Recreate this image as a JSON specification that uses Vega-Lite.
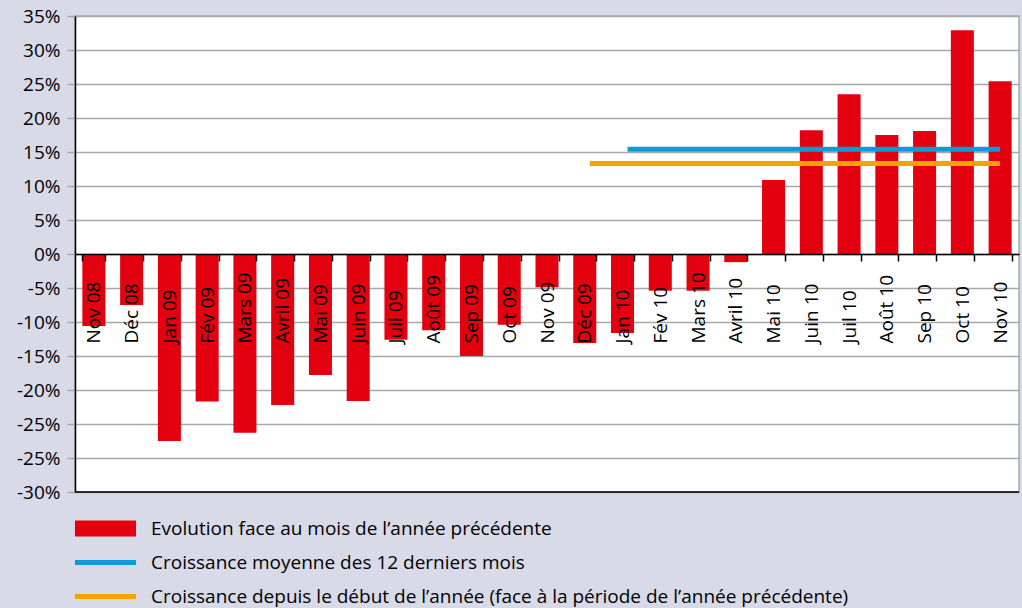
{
  "$schema": "https://vega.github.io/schema/vega-lite/v6.json",
  "width": 944,
  "height": 476,
  "autosize": "none",
  "padding": {"left": 75, "top": 16, "right": 3, "bottom": 116},
  "background": "#d8dae8",
  "view": {"fill": "#ffffff", "stroke": "#a8a8a8", "strokeWidth": 1.5},
  "config": {
    "font": "Open Sans",
    "axis": {"labelOverlap": false, "labelFlush": false},
    "axisY": {
      "title": null,
      "grid": true,
      "gridColor": "#a8a8a8",
      "gridWidth": 1.5,
      "gridOpacity": 1,
      "domainColor": "#000000",
      "domainWidth": 1.5,
      "tickColor": "#a8a8a8",
      "tickWidth": 1.5,
      "tickSize": 8,
      "labelPadding": 7,
      "labelFontSize": 19,
      "labelColor": "#000000",
      "labelOverlap": false,
      "labelFlush": false
    },
    "axisX": {
      "title": null,
      "labelAngle": -90,
      "labelAlign": "left",
      "labelBaseline": "middle",
      "labelPadding": 82,
      "labelFontSize": 19,
      "labelColor": "#000000",
      "labelOverlap": false,
      "labelFlush": false,
      "tickSize": 7,
      "tickColor": "#000000",
      "tickWidth": 1.5,
      "tickBand": "extent",
      "domainColor": "#000000",
      "domainWidth": 1.5,
      "grid": false
    }
  },
  "datasets": {
    "bars": [
      {"month": "Nov 08", "value": -10.6, "series": "Evolution face au mois de l’année précédente"},
      {"month": "Déc 08", "value": -7.5, "series": "Evolution face au mois de l’année précédente"},
      {"month": "Jan 09", "value": -27.5, "series": "Evolution face au mois de l’année précédente"},
      {"month": "Fév 09", "value": -21.7, "series": "Evolution face au mois de l’année précédente"},
      {"month": "Mars 09", "value": -26.3, "series": "Evolution face au mois de l’année précédente"},
      {"month": "Avril 09", "value": -22.2, "series": "Evolution face au mois de l’année précédente"},
      {"month": "Mai 09", "value": -17.8, "series": "Evolution face au mois de l’année précédente"},
      {"month": "Juin 09", "value": -21.6, "series": "Evolution face au mois de l’année précédente"},
      {"month": "Juil 09", "value": -12.6, "series": "Evolution face au mois de l’année précédente"},
      {"month": "Août 09", "value": -11.2, "series": "Evolution face au mois de l’année précédente"},
      {"month": "Sep 09", "value": -15.0, "series": "Evolution face au mois de l’année précédente"},
      {"month": "Oct 09", "value": -10.4, "series": "Evolution face au mois de l’année précédente"},
      {"month": "Nov 09", "value": -4.9, "series": "Evolution face au mois de l’année précédente"},
      {"month": "Déc 09", "value": -13.1, "series": "Evolution face au mois de l’année précédente"},
      {"month": "Jan 10", "value": -11.6, "series": "Evolution face au mois de l’année précédente"},
      {"month": "Fév 10", "value": -5.4, "series": "Evolution face au mois de l’année précédente"},
      {"month": "Mars 10", "value": -5.4, "series": "Evolution face au mois de l’année précédente"},
      {"month": "Avril 10", "value": -1.2, "series": "Evolution face au mois de l’année précédente"},
      {"month": "Mai 10", "value": 10.9, "series": "Evolution face au mois de l’année précédente"},
      {"month": "Juin 10", "value": 18.2, "series": "Evolution face au mois de l’année précédente"},
      {"month": "Juil 10", "value": 23.5, "series": "Evolution face au mois de l’année précédente"},
      {"month": "Août 10", "value": 17.5, "series": "Evolution face au mois de l’année précédente"},
      {"month": "Sep 10", "value": 18.1, "series": "Evolution face au mois de l’année précédente"},
      {"month": "Oct 10", "value": 32.9, "series": "Evolution face au mois de l’année précédente"},
      {"month": "Nov 10", "value": 25.4, "series": "Evolution face au mois de l’année précédente"}
    ],
    "lines": [
      {"month": "Jan 10", "end": "Nov 10", "value": 15.4, "series": "Croissance moyenne des 12 derniers mois"},
      {"month": "Déc 09", "end": "Nov 10", "value": 13.3, "series": "Croissance depuis le début de l’année (face à la période de l’année précédente)"}
    ],
    "base": [{"value": -35}]
  },
  "layer": [
    {
      "data": {"name": "bars"},
      "mark": {"type": "bar"},
      "encoding": {
        "x": {
          "field": "month",
          "type": "nominal",
          "scale": {
            "domain": ["Nov 08", "Déc 08", "Jan 09", "Fév 09", "Mars 09", "Avril 09", "Mai 09", "Juin 09", "Juil 09", "Août 09", "Sep 09", "Oct 09", "Nov 09", "Déc 09", "Jan 10", "Fév 10", "Mars 10", "Avril 10", "Mai 10", "Juin 10", "Juil 10", "Août 10", "Sep 10", "Oct 10", "Nov 10"],
            "paddingInner": 0.39,
            "paddingOuter": 0.195
          },
          "axis": {
            "orient": "bottom",
            "offset": -238,
            "labelOverlap": false,
            "zindex": 1
          }
        },
        "y": {
          "field": "value",
          "type": "quantitative",
          "scale": {"domain": [-35, 35], "nice": false, "zero": false},
          "axis": {
            "values": [-35, -30, -25, -20, -15, -10, -5, 0, 5, 10, 15, 20, 25, 30, 35],
            "tickCount": 30,
            "labelExpr": "datum.value == -30 ? '-25%' : datum.value == -35 ? '-30%' : datum.value + '%'",
            "labelOverlap": false,
            "zindex": 0
          }
        },
        "color": {
          "field": "series",
          "type": "nominal",
          "scale": {
            "domain": ["Evolution face au mois de l’année précédente", "Croissance moyenne des 12 derniers mois", "Croissance depuis le début de l’année (face à la période de l’année précédente)"],
            "range": ["#e3000f", "#0d9ad8", "#f5a300"]
          },
          "legend": {
            "title": null,
            "orient": "none",
            "legendX": 21,
            "legendY": 503,
            "direction": "vertical",
            "symbolSize": 196,
            "symbolStrokeWidth": 0,
            "labelFontSize": 19,
            "labelColor": "#000000",
            "labelOffset": 36,
            "labelLimit": 900,
            "rowPadding": 14,
            "encode": {
              "symbols": {
                "update": {
                  "shape": {"signal": "indexof(domain('color'), datum.value) == 0 ? 'M-4.36,-1.14H4.36V1.14H-4.36Z' : 'M-4.36,-0.36H4.36V0.36H-4.36Z'"},
                  "fill": {"signal": "scale('color', datum.value)"},
                  "stroke": {"value": "transparent"},
                  "opacity": {"value": 1}
                }
              }
            }
          }
        }
      }
    },
    {
      "data": {"name": "lines"},
      "mark": {"type": "rule", "strokeWidth": 5, "xOffset": 5},
      "encoding": {
        "x": {"field": "month", "type": "nominal"},
        "x2": {"field": "end"},
        "y": {"field": "value", "type": "quantitative"},
        "color": {"field": "series", "type": "nominal"}
      }
    },
    {
      "data": {"name": "base"},
      "mark": {"type": "rule", "color": "#000000", "strokeWidth": 1.5},
      "encoding": {
        "y": {"field": "value", "type": "quantitative"}
      }
    }
  ]
}
